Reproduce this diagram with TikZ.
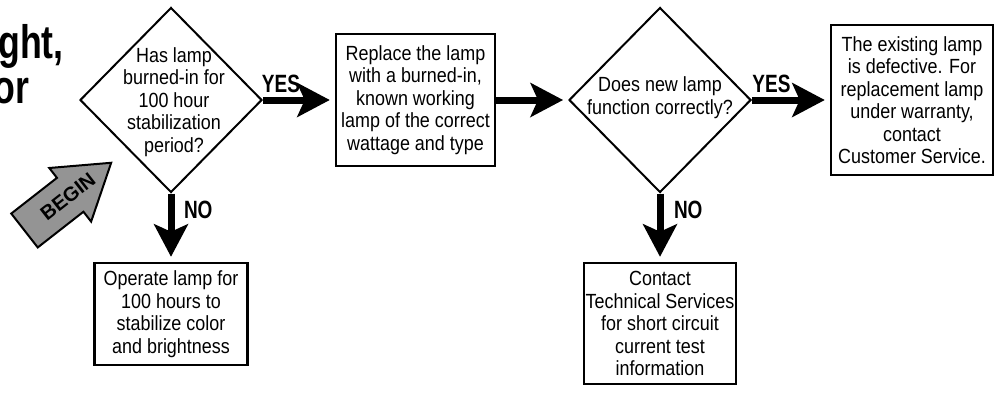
\documentclass[tikz,border=0pt]{standalone}
\usepackage{fontspec}
\setmainfont{Liberation Sans}[FakeStretch=0.875]
\newfontfamily\narrowbold{Liberation Sans}[FakeStretch=0.76]
\newfontfamily\plainsans{Liberation Sans}
\usetikzlibrary{positioning,shapes.geometric,arrows.meta}
\begin{document}
\begin{tikzpicture}[
  x=1pt, y=1pt,
  decision/.style={diamond, draw, line width=2pt, minimum width=182pt, minimum height=185pt, inner sep=0pt},
  qtext/.style={align=center, inner sep=0pt, font=\fontsize{20.5}{22.5}\selectfont},
  block/.style={rectangle, draw, line width=2.6pt, align=center, inner sep=0pt, font=\fontsize{20.5}{22.5}\selectfont},
  answer/.style={font=\narrowbold\bfseries\fontsize{25}{25}\selectfont, inner sep=0pt, outer sep=0pt},
  heading/.style={font=\narrowbold\bfseries\fontsize{47}{47}\selectfont, inner sep=0pt, anchor=base west},
  flow/.style={line width=7pt, -{Stealth[length=33pt, width=35pt, inset=8pt, line width=0pt]}, shorten >=5pt},
  startarrow/.style={draw, line width=2pt, line join=miter, fill=black!42},
  node distance=244.5pt
]
\useasboundingbox (0,0) rectangle (995,392);

% Heading, cut at the left edge
\node[heading] (head1) at (-2,334) {ght,};
\node[heading] (head2) at (-7,289) {or};

% Steps
\node[decision] (burnin) at (171,292) {};
\node[qtext] (burnin-q) at ([xshift=3pt, yshift=-2pt]burnin.center) {Has lamp\\burned-in for\\100 hour\\stabilization\\period?};
\node[block, minimum width=159pt, minimum height=132pt, right of=burnin] (replace) {Replace the lamp\\with a burned-in,\\known working\\lamp of the correct\\wattage and type};
\node[decision, right of=replace] (newlamp) {};
\node[qtext] (newlamp-q) at ([yshift=2.5pt]newlamp.center) {Does new lamp\\function correctly?};
\node[block, minimum width=162pt, minimum height=150pt, right of=newlamp, node distance=252pt] (defective) {The existing lamp\\is defective. For\\replacement lamp\\under warranty,\\contact\\Customer Service.};
\node[block, minimum width=153pt, minimum height=102pt, below of=burnin, node distance=214pt] (operate) {Operate lamp for\\100 hours to\\stabilize color\\and brightness};
\node[block, minimum width=152pt, minimum height=121pt, below of=newlamp, node distance=223.5pt] (contact) {Contact\\Technical Services\\for short circuit\\current test\\information};

% Yes path
\draw[flow] (burnin) -- node[answer, pos=0.25, above=7pt] (yes1) {YES} (replace);
\draw[flow] (replace) -- (newlamp);
\draw[flow] (newlamp) -- node[answer, pos=0.25, above=7pt] (yes2) {YES} (defective);

% No path
\draw[flow] (burnin) -- node[answer, pos=0.24, right=13pt] (no1) {NO} (operate);
\draw[flow] (newlamp) -- node[answer, pos=0.24, right=14pt] (no2) {NO} (contact);

% Start marker
\begin{scope}[shift={(24.5,161.5)}, rotate=38]
  \draw[startarrow] (0,21.5) -- (58,21.5) -- (58,34) -- (110,0) -- (58,-34) -- (58,-21.5) -- (0,-21.5) -- cycle;
  \node[rotate=38, inner sep=0pt, font=\plainsans\bfseries\fontsize{20}{20}\selectfont] (begin) at (55,0) {BEGIN};
\end{scope}
\end{tikzpicture}
\end{document}
